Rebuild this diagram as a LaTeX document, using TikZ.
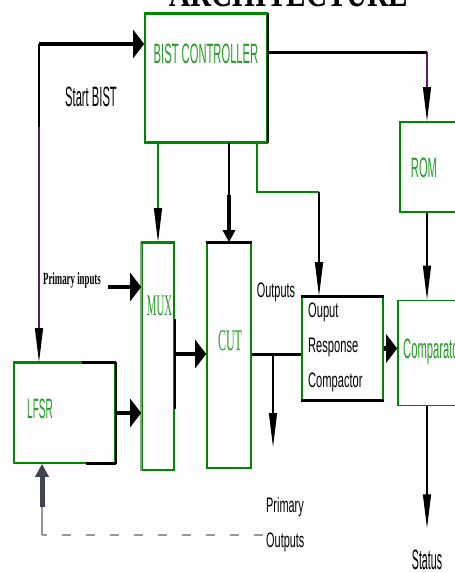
\documentclass[tikz,border=0pt]{standalone}
\usepackage{fontspec}
\setmainfont{Liberation Serif}
\setsansfont{Liberation Sans}
\usepackage{graphicx}
\usetikzlibrary{arrows.meta}

\definecolor{boxgreen}{RGB}{0,135,0}
\definecolor{labelgreen}{RGB}{40,155,40}
\definecolor{wirepurple}{RGB}{95,25,95}
\definecolor{dashgrey}{RGB}{150,150,150}
\definecolor{slate}{RGB}{62,68,82}

% squeeze text sideways (the drawing is stretched upright)
\newcommand{\squeeze}[2]{\scalebox{#1}[1]{#2}}

\begin{document}
\begin{tikzpicture}[x=1pt, y=-1pt,
    box/.style={draw=boxgreen, line width=1.6pt, inner sep=0pt},
    wire/.style={line width=1.2pt},
    busline/.style={line width=3pt},
    fatwire/.style={line width=4.5pt},
    thinhead/.style={-{Triangle[length=34pt,width=8pt,color=black]}},
    fathead/.style={-{Triangle[length=11pt,width=28pt]}},
    bigsans/.style={font=\fontsize{28}{30}\selectfont\sffamily, inner sep=0pt},
    smallsans/.style={font=\fontsize{21}{35}\selectfont\sffamily, inner sep=0pt},
    slimserif/.style={font=\fontsize{30}{32}\selectfont, text=labelgreen, inner sep=0pt}]

    \useasboundingbox (0,0) rectangle (455,573);
    \fill[white] (0,0) rectangle (455,573);

    % --- 1. TITLE (cut off at the top) ---
    \node[font=\fontsize{40}{40}\selectfont\bfseries, anchor=base, inner sep=0pt]
        (title) at (289,6) {\squeeze{0.73}{ARCHITECTURE}};

    % --- 2. THE BLOCKS ---
    % name / centre x / centre y / width / height
    \foreach \name/\cx/\cy/\w/\h in {ctrl/206/78/122/128, rom/430/167/60/90,
        mux/158/356.5/32/227, cut/229/355.5/44/225, lfsr/64.5/413/101/100,
        orc/342.5/348.5/81/103, cmp/430/353/64/105} {
        \node[box, minimum width=\w pt, minimum height=\h pt] (\name) at (\cx,\cy) {};
    }

    % black and heavy edges laid over the green frames
    \draw[line width=1.6pt] (ctrl.north east) -- (ctrl.south east);
    \draw[line width=1.6pt] (lfsr.north east) -- (lfsr.south east);
    \draw[line width=1.6pt, dashgrey] (mux.south west) -- (mux.north west);
    \draw[line width=1.6pt] ([yshift=-77pt]mux.north east) -- ([yshift=-167pt]mux.north east);
    \foreach \a/\b in {ctrl.north west/ctrl.north east, ctrl.south west/ctrl.south east,
        mux.north west/mux.north east} {
        \draw[busline, boxgreen] (\a) -- (\b);
    }
    \draw[busline, boxgreen] (lfsr.north west) -- ([xshift=-34pt]lfsr.north east);
    \foreach \a/\b in {cut.north west/cut.north east, orc.north west/orc.north east,
        orc.south west/orc.south east} {
        \draw[busline] (\a) -- (\b);
    }
    \draw[busline] ([xshift=-34pt]lfsr.north east) -- (lfsr.north east);
    \draw[busline] ([xshift=-30pt]lfsr.south east) -- (lfsr.south east);

    % --- 3. LABELS ---
    \node[bigsans, text=labelgreen, anchor=base] (ctrltxt) at (206,63) {\squeeze{0.4}{BIST CONTROLLER}};
    \node[bigsans, text=labelgreen, anchor=base] (romtxt) at (424,177) {\squeeze{0.4}{ROM}};
    \node[bigsans, text=labelgreen, anchor=base west] (lfsrtxt) at (27,418) {\squeeze{0.36}{LFSR}};
    \node[bigsans, text=labelgreen, anchor=base west] (cmptxt) at (403,358) {\squeeze{0.4}{Comparator}};
    \node[bigsans, anchor=base] (sbtxt) at (91,106) {\squeeze{0.4}{Start BIST}};
    \node[bigsans, anchor=base] (status) at (427,569) {\squeeze{0.38}{Status}};
    \node[slimserif, anchor=base] (muxtxt) at (159.5,315) {\squeeze{0.36}{MUX}};
    \node[slimserif, anchor=base] (cuttxt) at (230,350) {\squeeze{0.4}{CUT}};
    \node[font=\fontsize{17}{20}\selectfont\bfseries, anchor=base, inner sep=0pt]
        (pitxt) at (72,284) {\squeeze{0.52}{Primary inputs}};
    \node[smallsans, anchor=base] (outtxt) at (276,297) {\squeeze{0.52}{Outputs}};
    \node[smallsans, align=left, anchor=north west] (orctxt) at (308,303)
        {\squeeze{0.53}{Ouput}\\\squeeze{0.53}{Response}\\\squeeze{0.53}{Compactor}};
    \node[smallsans, align=left, anchor=north west] (potxt) at (266,497)
        {\squeeze{0.52}{Primary}\\\squeeze{0.52}{Outputs}};

    % --- 4. CONNECTORS ---
    \coordinate (sbcorner) at (39,44);
    \coordinate (sbpurple) at (39,127);
    \coordinate (romcol) at (427,52);
    \coordinate (cutfat) at (229,195);
    \coordinate (orcbend) at (257,192);
    \coordinate (orcdrop) at (319,192);
    \coordinate (piin) at (108,287);
    \coordinate (outtap) at (273,354);
    \coordinate (outend) at (273,447);
    \coordinate (fbk) at (42,535);
    \coordinate (fbkup) at (42,507);
    \coordinate (dashend) at (263,535);

    % start BIST: to the controller and down to the LFSR
    \draw[fatwire, fathead] (sbcorner) -- (sbcorner -| ctrl.west);
    \draw[wire] (sbcorner) -- (sbpurple);
    \draw[wire, wirepurple, thinhead] (sbpurple) -- (sbpurple |- lfsr.north);

    % controller outputs
    \draw[busline] (ctrl.east |- romcol) -- (romcol);
    \draw[wire, wirepurple, thinhead] (romcol) -- (romcol |- rom.north);
    \draw[wire, boxgreen, thinhead] (ctrl.south -| mux.north) -- (mux.north);
    \draw[wire] (ctrl.south -| cut.north) -- (cutfat);
    \draw[fatwire, -{Triangle[length=12pt,width=12pt]}] (cutfat) -- (cut.north);
    \draw[wire, boxgreen] (ctrl.south -| orcbend) -- (orcbend) -- (orcdrop);
    \draw[wire, thinhead] (orcdrop) -- (orcdrop |- orc.north);

    % data path
    \draw[fatwire, fathead] (piin) -- (piin -| mux.west);
    \draw[fatwire, fathead] (lfsr.east) -- (lfsr.east -| mux.west);
    \draw[fatwire, fathead] (mux.east |- outtap) -- (outtap -| cut.west);
    \draw[busline] (cut.east |- outtap) -- (outtap -| orc.west);
    \draw[wire, thinhead] (outtap) -- (outend);
    \draw[fatwire, fathead] (orc.east) -- (orc.east -| cmp.west);
    \draw[wire, thinhead] (romcol |- rom.south) -- (romcol |- cmp.north);
    \draw[wire, thinhead, shorten >=21pt] (romcol |- cmp.south) -- (romcol |- status.north);

    % primary outputs fed back to the LFSR
    \draw[dashgrey, line width=2.8pt, dash pattern=on 9pt off 15pt] (dashend) -- (fbk);
    \draw[wire, dashgrey] (fbk) -- (fbkup);
    \draw[line width=5pt, slate, -{Triangle[length=13pt,width=13pt]}] (fbkup) -- (fbkup |- lfsr.south);

\end{tikzpicture}
\end{document}
